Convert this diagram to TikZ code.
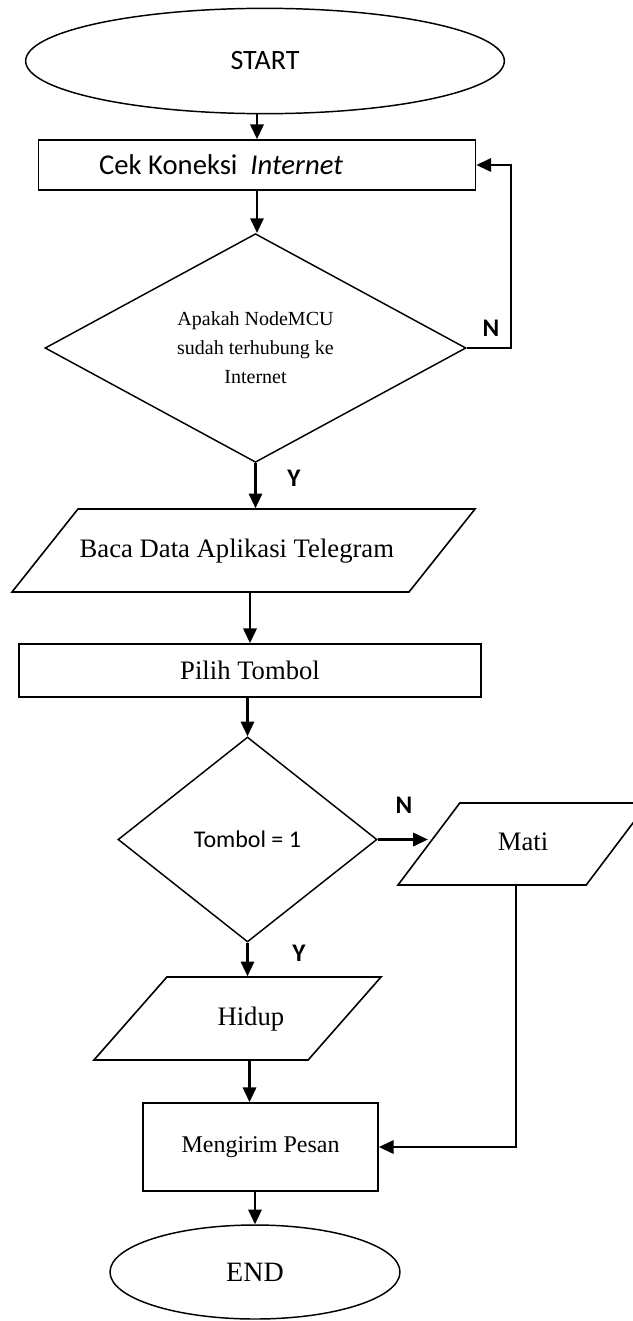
\documentclass[tikz,border=0pt]{standalone}
\usepackage{fontspec}
\setmainfont{Liberation Serif}
\newfontfamily\calibri{Carlito}
\usetikzlibrary{arrows.meta, shapes.geometric, positioning}

\begin{document}
\begin{tikzpicture}[
  x=0.75pt, y=-0.75pt,
  terminal/.style={ellipse, draw, line width=1.1pt, inner sep=0pt},
  proses/.style={rectangle, draw, line width=1.3pt, inner sep=0pt},
  keputusan/.style={diamond, draw, line width=1.1pt, inner sep=0pt, align=center},
  data/.style={trapezium, trapezium stretches body, draw, line width=1.2pt,
               inner xsep=0pt, text height=14pt, text depth=4pt},
  panah/.style={-{Triangle[length=11pt, width=10pt]}, line width=1.6pt},
  jawab/.style={font=\calibri\bfseries\fontsize{19}{22}\selectfont}
]
  \useasboundingbox (0,0) rectangle (632,1321);

  % --- Simpul alur utama ---
  \node[terminal, minimum width=359pt, minimum height=79pt,
        font=\calibri\fontsize{21}{25}\selectfont] (mulai) at (265,61) {START};
  \node[proses, minimum width=327.75pt, minimum height=37.5pt,
        font=\calibri\fontsize{21.5}{26}\selectfont] (cekkoneksi) at (257,165)
        {Cek Koneksi\ \ \textit{Internet}\hspace*{54pt}};
  \node[keputusan, minimum width=315.75pt, minimum height=157.5pt,
        font=\fontsize{15}{21.75}\selectfont] (tanya1) at (255.5,348)
        {Apakah NodeMCU\\sudah terhubung ke\\Internet};
  \node[data, trapezium left angle=51.5, trapezium right angle=128.5,
        minimum width=347.25pt, inner ysep=22.1pt,
        font=\fontsize{20}{24}\selectfont] (baca) at (243.5,550.5)
        {Baca Data Aplikasi Telegram\hspace*{10pt}};
  \node[proses, minimum width=346.5pt, minimum height=39.75pt,
        font=\fontsize{20}{24}\selectfont] (pilih) at (250,670.5) {Pilih Tombol};
  \node[keputusan, minimum width=194.25pt, minimum height=153.75pt,
        font=\calibri\fontsize{18}{22}\selectfont] (tanya2) at (247.5,839.5) {Tombol = 1};
  \node[data, trapezium left angle=48.7, trapezium right angle=131.3,
        minimum width=215.25pt, inner ysep=22.1pt,
        font=\fontsize{20}{24}\selectfont] (hidup) at (237.5,1018.5) {\hspace*{20pt}Hidup};
  \node[proses, minimum width=176.25pt, minimum height=66pt,
        font=\fontsize{18}{22}\selectfont] (kirim) at (260.5,1147) {Mengirim Pesan};
  \node[terminal, minimum width=217.5pt, minimum height=70.5pt,
        font=\fontsize{21}{25}\selectfont] (selesai) at (255,1272) {END};

  % --- Cabang kanan ---
  \node[data, trapezium left angle=53, trapezium right angle=127,
        minimum width=187.5pt, inner ysep=21.75pt,
        font=\fontsize{20}{24}\selectfont] (mati) at (523,844) {Mati};

  % --- Label jawaban ---
  \node[jawab] (n1) at (491,328) {N};
  \node[jawab] (y1) at (294,478) {Y};
  \node[jawab] (n2) at (404,805) {N};
  \node[jawab] (y2) at (299,953) {Y};

  % --- Panah ---
  \draw[panah] (mulai.south -| cekkoneksi.north) -- (cekkoneksi.north);
  \draw[panah] (cekkoneksi.south) -- (cekkoneksi.south |- tanya1.north);
  \draw[panah] (tanya1.east) -- ++(44,0) |- (cekkoneksi.east);
  \draw[panah] (tanya1.south) -- (tanya1.south |- baca.north);
  \draw[panah] (baca.south -| pilih.north) -- (pilih.north);
  \draw[panah] (pilih.south -| tanya2.north) -- (tanya2.north);
  \draw[panah] (tanya2.east) -- (tanya2.east -| mati.left side);
  \draw[panah] (tanya2.south) -- (tanya2.south |- hidup.north);
  \draw[panah] ([xshift=9pt]hidup.south) -- ([xshift=9pt]hidup.south |- kirim.north);
  \draw[panah] ([xshift=-5pt]mati.south) |- (kirim.east);
  \draw[panah] (kirim.south -| selesai.north) -- (selesai.north);
\end{tikzpicture}
\end{document}
